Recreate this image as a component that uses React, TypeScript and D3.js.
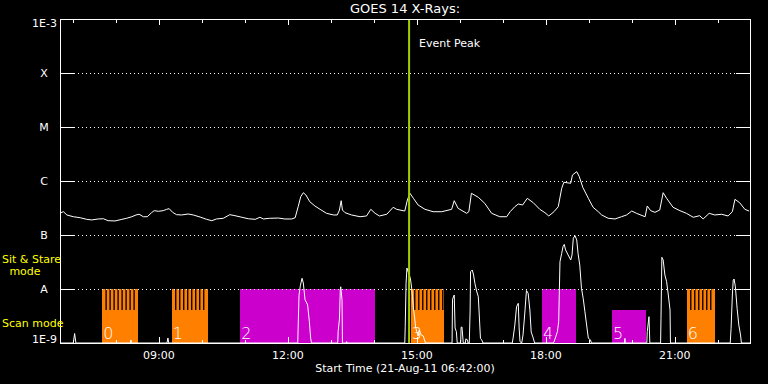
import React from 'react';
import * as d3 from 'd3';

const W = 768;
const H = 384;
const TITLE = 'GOES 14 X-Rays:';
const X_TITLE = 'Start Time (21-Aug-11 06:42:00)';
const EVENT_LABEL = 'Event Peak';
const START_HOUR = 6.7; // 06:42 UT
const END_HOUR = 22.75;
const FLUX_MIN = 1e-9;
const FLUX_MAX = 1e-3;

const yTickValues = [1e-9, 1e-8, 1e-7, 1e-6, 1e-5, 1e-4, 1e-3];
const yTickLabels = ['1E-9', 'A', 'B', 'C', 'M', 'X', '1E-3'];
const xMajorHours = [9, 12, 15, 18, 21];
const xMajorLabels = ['09:00', '12:00', '15:00', '18:00', '21:00'];
const xMinorHours = [7, 8, 10, 11, 13, 14, 16, 17, 19, 20, 22];

// GOES long channel (1-8 A)
const longHours = [6.72,6.78,6.86,7.01,7.17,7.32,7.44,7.59,7.71,7.82,
  7.98,8.14,8.25,8.37,8.47,8.54,8.64,8.73,8.83,8.89,
  8.99,9.10,9.18,9.24,9.32,9.41,9.53,9.68,9.80,9.96,
  10.11,10.23,10.34,10.50,10.65,10.77,10.93,11.08,11.24,11.35,
  11.43,11.58,11.78,11.93,12.09,12.17,12.24,12.30,12.36,12.42,
  12.51,12.63,12.75,12.90,13.06,13.15,13.20,13.24,13.27,13.33,
  13.48,13.68,13.83,13.93,14.03,14.13,14.30,14.45,14.53,14.68,
  14.72,14.78,14.84,14.92,15.03,15.19,15.38,15.58,15.81,15.87,
  15.96,16.16,16.21,16.27,16.43,16.58,16.74,16.93,17.09,17.17,
  17.28,17.36,17.46,17.57,17.71,17.86,17.98,18.07,18.19,18.29,
  18.37,18.42,18.58,18.62,18.72,18.78,18.86,18.99,19.10,19.22,
  19.30,19.45,19.61,19.76,19.88,20.00,20.11,20.31,20.36,20.44,
  20.54,20.65,20.73,20.81,20.96,21.12,21.27,21.43,21.58,21.66,
  21.80,21.93,22.09,22.24,22.34,22.40,22.51,22.63,22.73];
const longFlux = [2.59e-7,2.70e-7,2.35e-7,2.18e-7,2.09e-7,1.95e-7,1.90e-7,1.98e-7,2.00e-7,1.84e-7,
  1.82e-7,1.95e-7,2.04e-7,2.18e-7,2.35e-7,2.42e-7,2.18e-7,2.18e-7,2.59e-7,2.82e-7,
  2.75e-7,2.82e-7,2.99e-7,3.07e-7,2.63e-7,2.38e-7,2.35e-7,2.45e-7,2.35e-7,2.15e-7,
  1.95e-7,1.84e-7,1.98e-7,2.04e-7,2.38e-7,2.28e-7,2.13e-7,2.00e-7,1.95e-7,2.13e-7,
  1.98e-7,2.04e-7,2.06e-7,1.98e-7,1.98e-7,2.09e-7,3.34e-7,5.12e-7,6.07e-7,5.50e-7,
  4.14e-7,3.44e-7,2.99e-7,2.52e-7,2.35e-7,2.35e-7,2.90e-7,4.32e-7,2.90e-7,2.59e-7,
  2.35e-7,2.18e-7,2.25e-7,2.99e-7,2.52e-7,2.25e-7,2.42e-7,3.26e-7,2.99e-7,2.82e-7,
  2.78e-7,4.45e-7,5.92e-7,4.78e-7,3.59e-7,2.99e-7,2.70e-7,2.70e-7,2.99e-7,4.32e-7,
  3.12e-7,2.52e-7,2.70e-7,5.92e-7,4.99e-7,3.86e-7,2.52e-7,2.18e-7,2.18e-7,2.70e-7,
  3.34e-7,3.75e-7,3.59e-7,4.78e-7,3.96e-7,2.99e-7,2.59e-7,2.25e-7,2.70e-7,3.34e-7,
  7.32e-7,9.46e-7,9.07e-7,1.29e-6,1.49e-6,1.20e-6,7.64e-7,4.78e-7,3.26e-7,2.70e-7,
  2.35e-7,2.04e-7,1.98e-7,2.18e-7,2.35e-7,2.78e-7,2.52e-7,2.18e-7,3.44e-7,2.82e-7,
  2.63e-7,2.90e-7,6.07e-7,4.78e-7,3.26e-7,2.82e-7,2.52e-7,2.13e-7,2.28e-7,1.98e-7,
  2.52e-7,2.35e-7,2.42e-7,2.25e-7,2.70e-7,4.58e-7,3.96e-7,2.99e-7,2.78e-7];

// GOES short channel (0.5-4 A), values at/below 1E-9 sit on the floor
const shortHours = [6.70,7.01,7.04,7.07,8.34,8.35,8.36,9.19,9.21,9.23,
  12.23,12.26,12.29,12.33,12.36,12.40,12.44,12.46,12.50,12.53,12.55,
  13.16,13.17,13.20,13.22,13.23,13.26,13.27,13.36,13.37,13.38,
  14.72,14.73,14.75,14.77,14.80,14.85,14.88,14.90,14.92,14.95,14.97,15.00,15.03,15.06,15.10,15.15,15.20,
  15.82,15.83,15.87,15.89,15.92,15.94,16.02,16.03,16.05,16.08,16.13,16.14,16.18,16.19,
  16.22,16.24,16.25,16.29,16.32,16.35,16.39,16.43,16.45,16.48,16.51,16.54,
  17.22,17.24,17.28,17.32,17.36,17.38,17.40,17.44,17.47,17.51,17.55,17.59,17.63,17.66,17.70,17.74,
  18.17,18.19,18.27,18.30,18.33,18.37,18.40,18.43,18.46,18.52,18.58,18.61,18.64,18.68,18.72,18.75,
  18.79,18.83,18.87,18.91,18.95,18.99,19.04,19.06,
  19.83,19.84,19.85,20.35,20.36,20.40,20.42,
  20.67,20.68,20.70,20.73,20.77,20.81,20.85,20.89,20.90,
  22.29,22.31,22.34,22.36,22.38,22.41,22.45,22.49,22.53,22.55,22.75];
const shortFlux = [1e-9,1e-9,1.5e-9,1e-9,1e-9,1.14e-9,1e-9,1e-9,1.24e-9,1e-9,
  1e-9,7.7e-9,1.15e-8,1.58e-8,1.29e-8,6.3e-9,5.5e-9,5.05e-9,2.48e-9,1.24e-9,1e-9,
  1e-9,1.62e-9,2.78e-9,9.58e-9,1.1e-8,6.3e-9,1e-9,1e-9,1.06e-9,1e-9,
  1e-9,2.0e-9,1.28e-8,2.45e-8,2.06e-8,1.58e-8,1.04e-8,7.2e-9,4.45e-9,2.9e-9,1.98e-9,1.62e-9,1.35e-9,1.74e-9,1.41e-9,1.35e-9,1e-9,
  1e-9,6.45e-9,7.74e-9,1.9e-9,1.62e-9,1e-9,1e-9,1.95e-9,1.98e-9,1e-9,1e-9,1.19e-9,1.14e-9,1e-9,
  1e-9,4.08e-9,2.09e-8,2.25e-8,1.82e-8,1.28e-8,9.18e-9,7.2e-9,3.59e-9,1.22e-9,1.14e-9,1e-9,
  1e-9,1.24e-9,2.15e-9,4.7e-9,5.43e-9,1.9e-9,1.06e-9,1e-9,1.41e-9,3.44e-9,9.38e-9,8.32e-9,4.08e-9,1.6e-9,1.29e-9,1e-9,
  1e-9,1.04e-9,1.62e-9,2.48e-9,3.2e-8,4.58e-8,6.07e-8,6.7e-8,5.3e-8,4.26e-8,3.44e-8,4.26e-8,8.7e-8,9.7e-8,8.1e-8,4.58e-8,
  2.78e-8,1.03e-8,6.73e-9,3.8e-9,2.15e-9,1.22e-9,1.14e-9,1e-9,
  1e-9,1.22e-9,1e-9,1e-9,1.62e-9,3.07e-9,1e-9,
  1e-9,2.87e-9,3.86e-8,3.44e-8,1.82e-8,1.37e-8,7.74e-9,4.08e-9,1e-9,
  1e-9,1.87e-9,7.74e-9,1.47e-8,1.53e-8,1.1e-8,4.39e-9,2.15e-9,1.41e-9,1e-9,1e-9];

// Observation blocks
const blockIds = ['0', '1', '2', '3', '4', '5', '6'];
const blockStart = [7.68, 9.30, 10.89, 14.86, 17.91, 19.54, 21.28];
const blockEnd = [8.51, 10.14, 14.03, 15.63, 18.70, 20.33, 21.93];
const blockMode = ['comb', 'comb', 'sit', 'comb', 'sit', 'scan', 'comb'];
const SIT_LEVEL = 1e-8;
const SCAN_LEVEL = 4.08e-9;
const COMB_OFFSET_H = 0.077;
const COMB_PERIOD_H = 0.093;
const COMB_GAP_H = 0.031;

const EVENT_PEAK_HOUR = 14.82;

const ORANGE = '#ff8000';
const MAGENTA = '#cc00cc';
const EVENT_GREEN = '#a0d000';
const YELLOW = '#ffff00';
const FONT = 'DejaVu Sans, sans-serif';

export default function App() {
  const left = 60, right = 750, top = 19, bottom = 343;
  const x = d3.scaleLinear().domain([START_HOUR, END_HOUR]).range([left, right]);
  const y = d3.scaleLog().domain([FLUX_MIN, FLUX_MAX]).range([bottom, top]).clamp(true);

  const line = d3.line<[number, number]>().x((d) => x(d[0])).y((d) => y(d[1]));
  const longPath = line(longHours.map((h, i) => [h, longFlux[i]]) as [number, number][]) || '';
  const shortPath = line(shortHours.map((h, i) => [h, shortFlux[i]]) as [number, number][]) || '';

  const gaps: { s: number; e: number }[] = [];
  blockStart.forEach((s, i) => {
    if (blockMode[i] !== 'comb') return;
    for (let t = s + COMB_OFFSET_H; t + COMB_GAP_H < blockEnd[i]; t += COMB_PERIOD_H) {
      gaps.push({ s: t, e: t + COMB_GAP_H });
    }
  });

  const tickLen = 14;

  return (
    <svg width={W} height={H} style={{ position: 'absolute', left: 0, top: 0, background: '#000' }}
      fontFamily={FONT}>
      <rect x={0} y={0} width={W} height={H} fill="#000" />

      {/* blocks */}
      {blockStart.map((s, i) => {
        const level = blockMode[i] === 'scan' ? SCAN_LEVEL : SIT_LEVEL;
        return (
          <rect key={'b' + i} x={x(s)} y={y(level)} width={x(blockEnd[i]) - x(s)}
            height={y(FLUX_MIN) - y(level)} fill={blockMode[i] === 'comb' ? ORANGE : MAGENTA}
            shapeRendering="crispEdges" />
        );
      })}
      {gaps.map((g, i) => (
        <rect key={'g' + i} x={x(g.s)} y={y(SIT_LEVEL)} width={x(g.e) - x(g.s)}
          height={y(SCAN_LEVEL) - y(SIT_LEVEL)} fill="#000" />
      ))}

      {/* grid */}
      {yTickValues.slice(1, -1).map((v, i) => (
        <line key={'grid' + i} x1={left + tickLen} x2={right - tickLen} y1={y(v) + 0.5} y2={y(v) + 0.5}
          stroke="#fff" strokeWidth={1} strokeDasharray="1,3" shapeRendering="crispEdges" />
      ))}

      {/* curves */}
      <path d={longPath} fill="none" stroke="#fff" strokeWidth={1} />
      <path d={shortPath} fill="none" stroke="#fff" strokeWidth={1} />

      {/* event line */}
      <line x1={x(EVENT_PEAK_HOUR)} x2={x(EVENT_PEAK_HOUR)} y1={top} y2={bottom}
        stroke={EVENT_GREEN} strokeWidth={2} />
      <text x={x(EVENT_PEAK_HOUR) + 10} y={47} fill="#fff" fontSize={11}>{EVENT_LABEL}</text>

      {/* block labels */}
      {blockStart.map((s, i) => (
        <text key={'bl' + i} x={x(s) + 1} y={339} fill="#fff" fontSize={16}
          fontWeight={300}>{blockIds[i]}</text>
      ))}

      {/* frame */}
      <rect x={left + 0.5} y={top + 0.5} width={right - left} height={bottom - top}
        fill="none" stroke="#fff" strokeWidth={1} shapeRendering="crispEdges" />

      {/* y ticks */}
      {yTickValues.map((v, i) => (
        <g key={'yt' + i}>
          <line x1={left} x2={left + tickLen} y1={y(v) + 0.5} y2={y(v) + 0.5} stroke="#fff" shapeRendering="crispEdges" />
          <line x1={right - tickLen} x2={right} y1={y(v) + 0.5} y2={y(v) + 0.5} stroke="#fff" shapeRendering="crispEdges" />
          <text
            x={i === 0 || i === yTickValues.length - 1 ? 57 : 44}
            y={y(v)}
            dy={i === 0 ? '0' : i === yTickValues.length - 1 ? '0.75em' : '0.36em'}
            textAnchor={i === 0 || i === yTickValues.length - 1 ? 'end' : 'middle'}
            fill="#ffffff" fontSize={11}>{yTickLabels[i]}</text>
        </g>
      ))}

      {/* x ticks */}
      {xMajorHours.map((h, i) => (
        <g key={'xm' + i}>
          <line x1={Math.round(x(h)) + 0.5} x2={Math.round(x(h)) + 0.5} y1={top} y2={top + 6} stroke="#fff" shapeRendering="crispEdges" />
          <line x1={Math.round(x(h)) + 0.5} x2={Math.round(x(h)) + 0.5} y1={bottom} y2={bottom - 6} stroke="#fff" shapeRendering="crispEdges" />
          <text x={x(h)} y={359} textAnchor="middle" fill="#fff" fontSize={11}>{xMajorLabels[i]}</text>
        </g>
      ))}
      {xMinorHours.map((h, i) => (
        <g key={'xn' + i}>
          <line x1={Math.round(x(h)) + 0.5} x2={Math.round(x(h)) + 0.5} y1={top} y2={top + 4} stroke="#fff" shapeRendering="crispEdges" />
          <line x1={Math.round(x(h)) + 0.5} x2={Math.round(x(h)) + 0.5} y1={bottom} y2={bottom - 3} stroke="#fff" shapeRendering="crispEdges" />
        </g>
      ))}

      {/* titles */}
      <text x={(left + right) / 2} y={13} textAnchor="middle" fill="#fff" fontSize={13}>{TITLE}</text>
      <text x={(left + right) / 2} y={372} textAnchor="middle" fill="#fff" fontSize={11}>{X_TITLE}</text>

      {/* mode labels */}
      <text x={2} y={263} fill={YELLOW} fontSize={11}>Sit &amp; Stare</text>
      <text x={25} y={275} fill={YELLOW} fontSize={11} textAnchor="middle">mode</text>
      <text x={2} y={327} fill={YELLOW} fontSize={11}>Scan mode</text>
    </svg>
  );
}
